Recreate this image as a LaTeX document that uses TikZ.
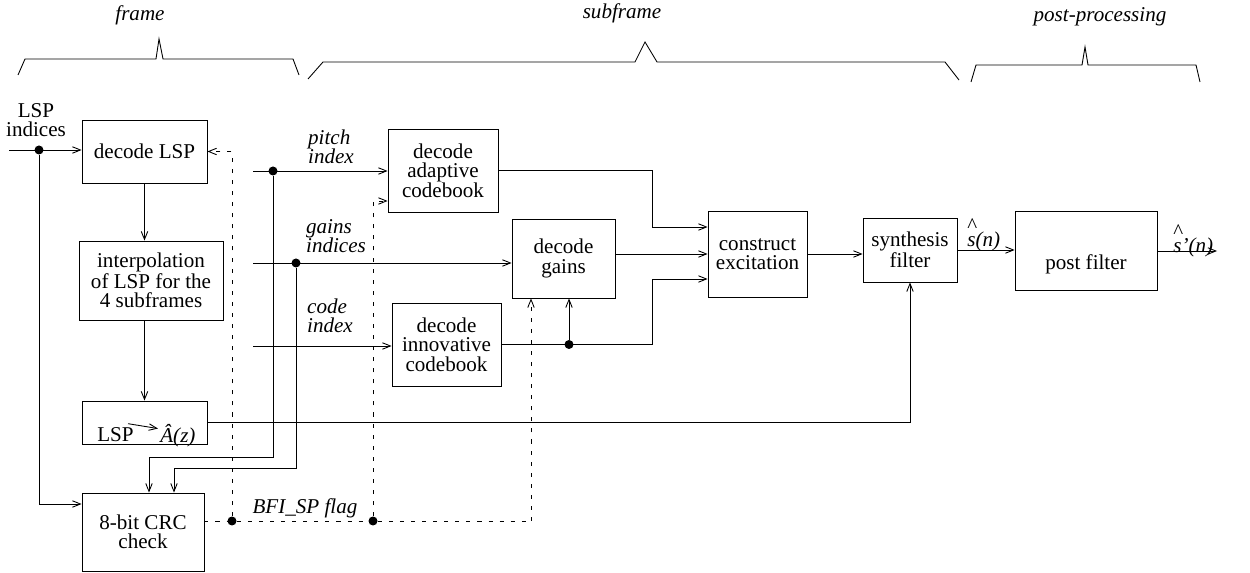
\documentclass[tikz,border=0pt]{standalone}
\usepackage{fontspec}
\setmainfont{Liberation Serif}
\usetikzlibrary{arrows.meta}

\begin{document}
\begin{tikzpicture}[
    x=0.02cm, y=-0.02cm,
    >={Straight Barb[length=1.6mm,width=1.3mm]},
    block/.style={draw, line width=0.5pt, align=center, inner sep=1pt,
      font=\fontsize{12}{11}\selectfont},
    wire/.style={line width=0.5pt},
    flagwire/.style={line width=0.5pt, dash pattern=on 2.3pt off 4pt},
    junct/.style={circle, fill, inner sep=0pt, minimum size=1.8mm},
    lbl/.style={font=\fontsize{12}{11}\selectfont\itshape, inner sep=0pt},
    txt/.style={font=\fontsize{12}{11}\selectfont, inner sep=0pt},
  ]
  \useasboundingbox (0,0) rectangle (1250,573);

  % ---- stage braces
  \draw[wire] (18,75) -- (25,59) -- (156,59) -- (159,39) -- (163,59) -- (293,59) -- (299,75);
  \draw[wire] (308,79) -- (323,62) -- (635,62) -- (645,42) -- (657,62) -- (945,62) -- (959,80);
  \draw[wire] (971,82) -- (976,65) -- (1082,65) -- (1085,47) -- (1088,65) -- (1196,65) -- (1200,82);
  \node[lbl] (tframe) at (140,15) {frame};
  \node[lbl] (tsub) at (622,13) {subframe};
  \node[lbl] (tpost) at (1100,17) {post-processing};

  % ---- frame blocks
  \node[block, minimum width=2.5cm, minimum height=1.26cm] (declsp) at (144.5,151.5) {decode LSP};
  \node[block, minimum width=2.88cm, minimum height=1.58cm] (interp) at (151,280.5)
    {interpolation\\of LSP for the\\4 subframes};
  \node[block, minimum width=2.5cm, minimum height=0.86cm] (lspa) at (144.5,422.5) {};
  \node[txt, anchor=base west] (lsptxt) at (97,442) {LSP};
  \node[txt, anchor=base west] (atxt) at (160,443) {\textit{\^{A}(z)}};
  \node[block, minimum width=2.44cm, minimum height=1.56cm] (crc) at (143,532) {8-bit CRC\\check};

  % ---- subframe blocks
  \node[block, minimum width=2.2cm, minimum height=1.66cm] (adapt) at (443,170.5)
    {decode\\adaptive\\codebook};
  \node[block, minimum width=2.06cm, minimum height=1.58cm] (gains) at (563.5,258.5) {decode\\gains};
  \node[block, minimum width=2.18cm, minimum height=1.66cm] (innov) at (446.5,344.5)
    {decode\\innovative\\codebook};
  \node[block, minimum width=1.98cm, minimum height=1.72cm] (constr) at (757.5,254)
    {construct\\excitation};
  \node[block, minimum width=1.88cm, minimum height=1.28cm] (synth) at (910,250) {synthesis\\filter};
  \node[block, minimum width=2.84cm, minimum height=1.58cm, text height=0.85cm, text depth=0.1cm]
    (post) at (1086,250.5) {post filter};

  % ---- input labels
  \node[txt, align=center] (tlspin) at (36,120) {LSP\\indices};
  \node[lbl, align=left] (tpitch) at (331,147) {pitch\\index};
  \node[lbl, align=left] (tgains) at (336,236) {gains\\indices};
  \node[lbl, align=left] (tcode) at (330,316) {code\\index};
  \node[lbl] (tbfi) at (305,508) {BFI\_SP flag};
  \node[lbl, align=left, anchor=south west] (tshat) at (967,251) {{\upshape\^{}}\\[-3pt]s(n)};
  \node[lbl, align=left, anchor=south west] (tsout) at (1173,257) {{\upshape\^{}}\\[-3pt]s'(n)};

  % ---- LSP path
  \coordinate (lspin) at (9,150);
  \node[junct] (dlsp) at (39,150) {};
  \draw[wire,->] (lspin) -- (lspin -| declsp.west);
  \draw[wire,->] (dlsp) |- ([yshift=0.56cm]crc.west);
  \draw[wire,->] (declsp.south) -- (declsp.south |- interp.north);
  \draw[wire,->] (lspa |- interp.south) -- (lspa.north);
  \draw[wire,->] ([xshift=-0.12cm,yshift=0.08cm]lsptxt.north east) -- ([xshift=-0.04cm,yshift=-0.08cm]atxt.north west);

  % ---- subframe indices
  \coordinate (pin) at (253,171);
  \node[junct] (dpitch) at (273,171) {};
  \draw[wire,->] (pin) -- (pin -| adapt.west);
  \draw[wire,->] (dpitch) -- ++(0,286) -| ([xshift=0.12cm]crc.north);

  \coordinate (gin) at (253,263);
  \node[junct] (dgains) at (296,263) {};
  \draw[wire,->] (gin) -- (gin -| gains.west);
  \draw[wire,->] (dgains) -- ++(0,205) -| ([xshift=0.62cm]crc.north);

  \coordinate (cin) at (253,346);
  \draw[wire,->] (cin) -- (cin -| innov.west);

  % ---- excitation and synthesis
  \draw[wire,->] (adapt.east) -- ++(154,0) |- ([yshift=0.54cm]constr.west);
  \draw[wire,->] (constr.west -| gains.east) -- (constr.west);
  \node[junct] (dinnov) at (569,344.5) {};
  \draw[wire,->] (innov.east) -- ++(151,0) |- ([yshift=-0.5cm]constr.west);
  \draw[wire,->] (dinnov) -- (dinnov |- gains.south);
  \draw[wire,->] (constr.east) -- (constr.east -| synth.west);
  \draw[wire,->] (synth.east) -- (synth.east -| post.west);
  \draw[wire,->] (lspa.east) -| (synth.south);
  \coordinate (sout) at (1217,251);
  \draw[wire,->] (post.east |- sout) -- (sout);

  % ---- bad frame indication
  \node[junct] (dcrc) at (232,521) {};
  \node[junct] (dbfi) at (373,521) {};
  \coordinate (bfigain) at (531,521);
  \draw[flagwire] (crc.east |- dcrc) -- (dcrc) -- (dbfi) -- (bfigain);
  \draw[flagwire,->] (bfigain) -- (bfigain |- gains.south);
  \draw[flagwire,->] (dcrc) -- (dcrc |- declsp.east) -- (declsp.east);
  \draw[flagwire,->] (dbfi) |- ([yshift=-0.61cm]adapt.west);

\end{tikzpicture}
\end{document}
